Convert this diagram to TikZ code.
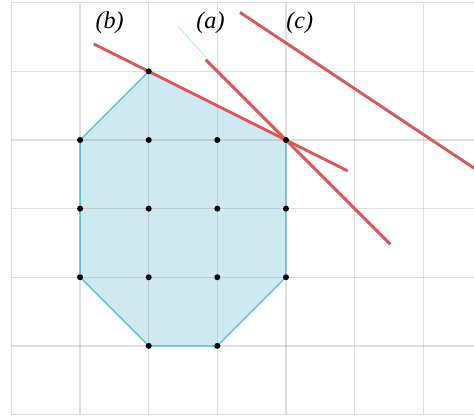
\documentclass[tikz,border=0pt]{standalone}
\usepackage{fontspec}
\setmainfont{Liberation Serif}[ItalicFont={Liberation Serif Italic}]
\definecolor{gridc}{HTML}{808080}
\definecolor{fillc}{HTML}{CFE9F0}
\definecolor{edgec}{HTML}{5BC3D3}
\definecolor{redc}{HTML}{D65A5A}
\definecolor{faintc}{HTML}{C6EDF4}
\tikzset{
  gridline/.style={draw=gridc, draw opacity=0.25, line width=0.55pt},
  regionfill/.style={fill=fillc},
  regionedge/.style={draw=edgec, line width=0.6pt, line join=round},
  redline/.style={draw=redc, line width=1.2pt},
  dot/.style={circle, fill=black, inner sep=0pt, minimum size=2.5pt},
  lbl/.style={inner sep=0pt}
}
\begin{document}
\begin{tikzpicture}[x=1cm,y=1cm]
\useasboundingbox (-0.167,-0.058) rectangle (6.74,6.04);
% polygon
\coordinate (p1) at (2,5);
\coordinate (p2) at (4,4);
\coordinate (p3) at (4,2);
\coordinate (p4) at (3,1);
\coordinate (p5) at (2,1);
\coordinate (p6) at (1,2);
\coordinate (p7) at (1,4);
\path[regionfill] (p1) -- (p2) -- (p3) -- (p4) -- (p5) -- (p6) -- (p7) -- cycle;
% grid
\foreach \x in {0,...,6} \draw[gridline] (\x,0) -- (\x,6);
\foreach \y in {0,...,6} \draw[gridline] (0,\y) -- (6.74,\y);
\path[regionedge] (p1) -- (p2) -- (p3) -- (p4) -- (p5) -- (p6) -- (p7) -- cycle;
% faint segment
\coordinate (f1) at (2.42,5.66);
\coordinate (f2) at (2.83,5.21);
\draw[faintc, line width=0.5pt] (f1) -- (f2);
% red lines
\coordinate (b1) at (1.2,5.4);
\coordinate (b2) at (4.9,3.55);
\coordinate (a1) at (2.83,5.17);
\coordinate (a2) at (5.52,2.48);
\coordinate (c1) at (3.33,5.86);
\coordinate (c2) at (6.74,3.59);
\draw[redline] (b1) -- (b2);
\draw[redline] (a1) -- (a2);
\draw[redline] (c1) -- (c2);
% dots
\foreach \p in {(2,5),(1,4),(2,4),(3,4),(4,4),(1,3),(2,3),(3,3),(4,3),(1,2),(2,2),(3,2),(4,2),(2,1),(3,1)}
  \node[dot] at \p {};
% labels
\node[lbl] (lb) at (1.43,5.71) {\textit{(b)}};
\node[lbl] (la) at (2.90,5.71) {\textit{(a)}};
\node[lbl] (lc) at (4.20,5.71) {\textit{(c)}};
\end{tikzpicture}
\end{document}
